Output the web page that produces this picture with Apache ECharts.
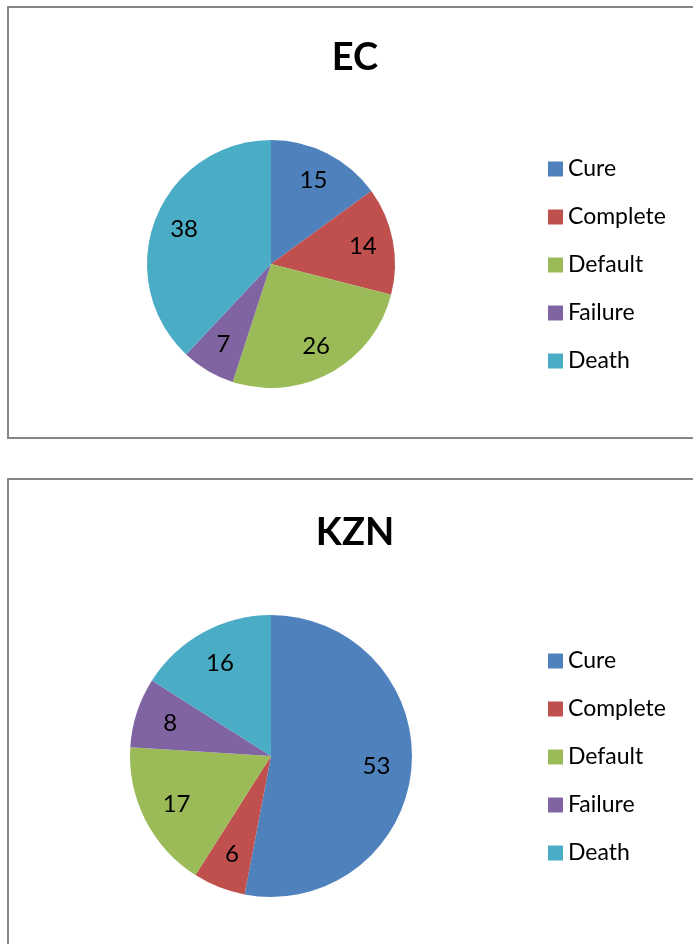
<!DOCTYPE html>
<html>
<head>
<meta charset="utf-8">
<script src="https://cdn.jsdelivr.net/npm/echarts@6/dist/echarts.min.js"></script>
<style>
html,body{margin:0;padding:0;background:#fff;}
#c{width:693px;height:944px;}
</style>
</head>
<body>
<div id="c"></div>
<script>
const categories = ['Cure', 'Complete', 'Default', 'Failure', 'Death'];
const ecValues = [15, 14, 26, 7, 38];
const kznValues = [53, 6, 17, 8, 16];
const panelTitles = ['EC', 'KZN'];
const colors = ['#4F81BD', '#C0504D', '#9BBB59', '#8064A2', '#4BACC6'];

const FONT = 'Lato';
function toData(vals) {
  return categories.map((n, i) => ({ name: n, value: vals[i], itemStyle: { color: colors[i] } }));
}
function pie(vals, cy, r) {
  return {
    type: 'pie', center: [271, cy], radius: [0, r], startAngle: 90, clockwise: true,
    label: { show: false }, labelLine: { show: false },
    emphasis: { scale: false },
    data: toData(vals)
  };
}
function labels(vals, cy, r) {
  return {
    type: 'pie', center: [271, cy], radius: [r * 0.46, r], startAngle: 90, clockwise: true,
    silent: true, legendHoverLink: false,
    itemStyle: { color: 'rgba(0,0,0,0)' },
    label: { show: true, position: 'inside', formatter: '{c}', color: '#000', fontFamily: FONT, fontSize: 24 },
    labelLine: { show: false },
    data: categories.map((n, i) => ({ name: n, value: vals[i], itemStyle: { color: 'rgba(0,0,0,0)' } }))
  };
}
function legend(top) {
  return {
    orient: 'vertical', left: 548, top: top, itemWidth: 15, itemHeight: 15, itemGap: 24,
    icon: 'rect', padding: 0,
    textStyle: { fontFamily: FONT, fontSize: 23, color: '#000', lineHeight: 24 },
    data: categories.map((n, i) => ({ name: n, itemStyle: { color: colors[i] } }))
  };
}
const chart = echarts.init(document.getElementById('c'), null, { renderer: 'canvas' });
chart.setOption({
  backgroundColor: '#fff',
  animation: false,
  graphic: [
    { type: 'rect', z: -10, shape: { x: 8, y: 7, width: 720, height: 431 }, style: { fill: '#fff', stroke: '#868686', lineWidth: 2 } },
    { type: 'rect', z: -10, shape: { x: 8, y: 479, width: 720, height: 500 }, style: { fill: '#fff', stroke: '#868686', lineWidth: 2 } }
  ],
  title: [
    { text: panelTitles[0], left: 355, top: 58, textAlign: 'center', textVerticalAlign: 'middle', padding: 0,
      textStyle: { fontFamily: FONT, fontWeight: 'bold', fontSize: 38, color: '#000' } },
    { text: panelTitles[1], left: 355, top: 533, textAlign: 'center', textVerticalAlign: 'middle', padding: 0,
      textStyle: { fontFamily: FONT, fontWeight: 'bold', fontSize: 38, color: '#000' } }
  ],
  legend: [legend(157), legend(649)],
  series: [
    pie(ecValues, 264, 124),
    pie(kznValues, 756, 141),
    labels(ecValues, 264, 124),
    labels(kznValues, 756, 141)
  ]
});
</script>
</body>
</html>
